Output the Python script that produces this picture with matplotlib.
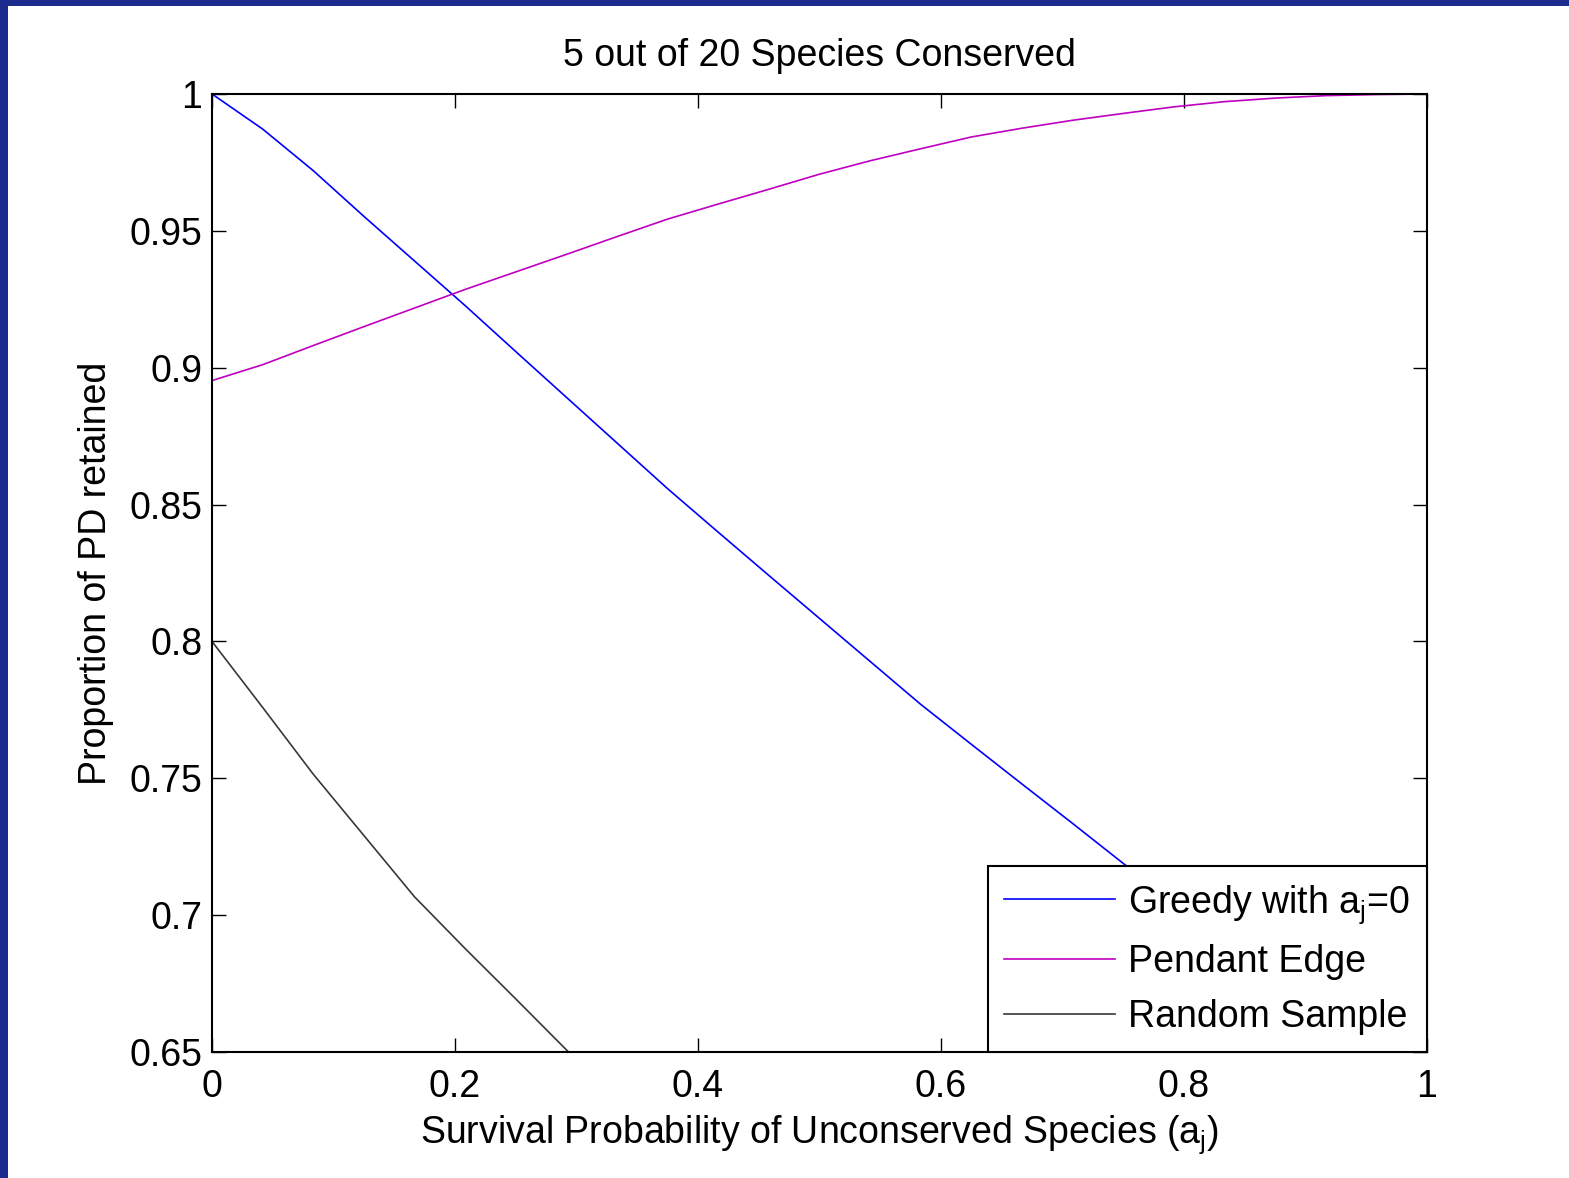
"""plot.py"""

import matplotlib
matplotlib.use("Agg")
import matplotlib.pyplot as plt
import numpy as np
from matplotlib.patches import Rectangle

plt.rcParams['font.family'] = ['Liberation Sans', 'DejaVu Sans']

# data: sampled at 25 even steps of a_j from 0 to 1
a_j = np.linspace(0, 1, 25)
greedy = [1.000, 0.9872, 0.9720, 0.9553, 0.9390, 0.9227, 0.9059, 0.8892, 0.8725,
          0.8558, 0.8399, 0.8241, 0.8084, 0.7927, 0.7770, 0.7624, 0.7479, 0.7335,
          0.7189, 0.7048, 0.6906, 0.6765, 0.6623, 0.6482, 0.6340]
pendant = [0.8953, 0.9011, 0.9081, 0.9150, 0.9218, 0.9286, 0.9350, 0.9414, 0.9479,
           0.9543, 0.9598, 0.9652, 0.9707, 0.9756, 0.9800, 0.9843, 0.9875, 0.9904,
           0.9929, 0.9953, 0.9972, 0.9985, 0.9994, 0.9998, 1.0000]
random_x = a_j[:9]
random_s = [0.8000, 0.7759, 0.7515, 0.7291, 0.7067, 0.6878, 0.6694, 0.6508, 0.6320]

xticks = [0, 0.2, 0.4, 0.6, 0.8, 1]
xtick_labels = ['0', '0.2', '0.4', '0.6', '0.8', '1']
yticks = [0.65, 0.7, 0.75, 0.8, 0.85, 0.9, 0.95, 1]
ytick_labels = ['0.65', '0.7', '0.75', '0.8', '0.85', '0.9', '0.95', '1']

fs = 27

# figure with the blue slide border on top and left
fig = plt.figure(figsize=(15.69, 11.78), dpi=100, facecolor='#1b2b8e')
fig.patches.append(Rectangle((8/1569., 0), 1, 1 - 6/1178., transform=fig.transFigure,
                             facecolor='white', edgecolor='none', zorder=-1))
ax = fig.add_axes([212/1569., 1 - 1052/1178., 1215/1569., 958/1178.])

ax.plot(a_j, greedy, color='#0000ff', lw=1.2, label='Greedy with a$_\\mathregular{j}$=0')
ax.plot(a_j, pendant, color='#c000c0', lw=1.2, label='Pendant Edge')
ax.plot(random_x, random_s, color='#383838', lw=1.2, label='Random Sample')

ax.set_xlim(0, 1)
ax.set_ylim(0.65, 1)
ax.set_xticks(xticks)
ax.set_xticklabels(xtick_labels)
ax.set_yticks(yticks)
ax.set_yticklabels(ytick_labels)
ax.tick_params(direction='in', top=True, right=True, length=10, width=1.0,
               labelsize=fs, pad=12)
ax.tick_params(axis='y', pad=7)
for s in ax.spines.values():
    s.set_linewidth(1.5)

ax.set_title("5 out of 20 Species Conserved", fontsize=fs, pad=20)
ax.set_xlabel("Survival Probability of Unconserved Species (a$_\\mathregular{j}$)",
              fontsize=fs, labelpad=6)
ax.set_ylabel("Proportion of PD retained", fontsize=fs, labelpad=11)

leg = ax.legend(loc='lower right', fontsize=fs, borderaxespad=0, fancybox=False,
                framealpha=1, handlelength=2.95, handletextpad=0.35,
                labelspacing=0.5, borderpad=0.45)
leg.get_frame().set_edgecolor('black')
leg.get_frame().set_linewidth(1.5)

plt.savefig("out.png", dpi=100, facecolor=fig.get_facecolor())
